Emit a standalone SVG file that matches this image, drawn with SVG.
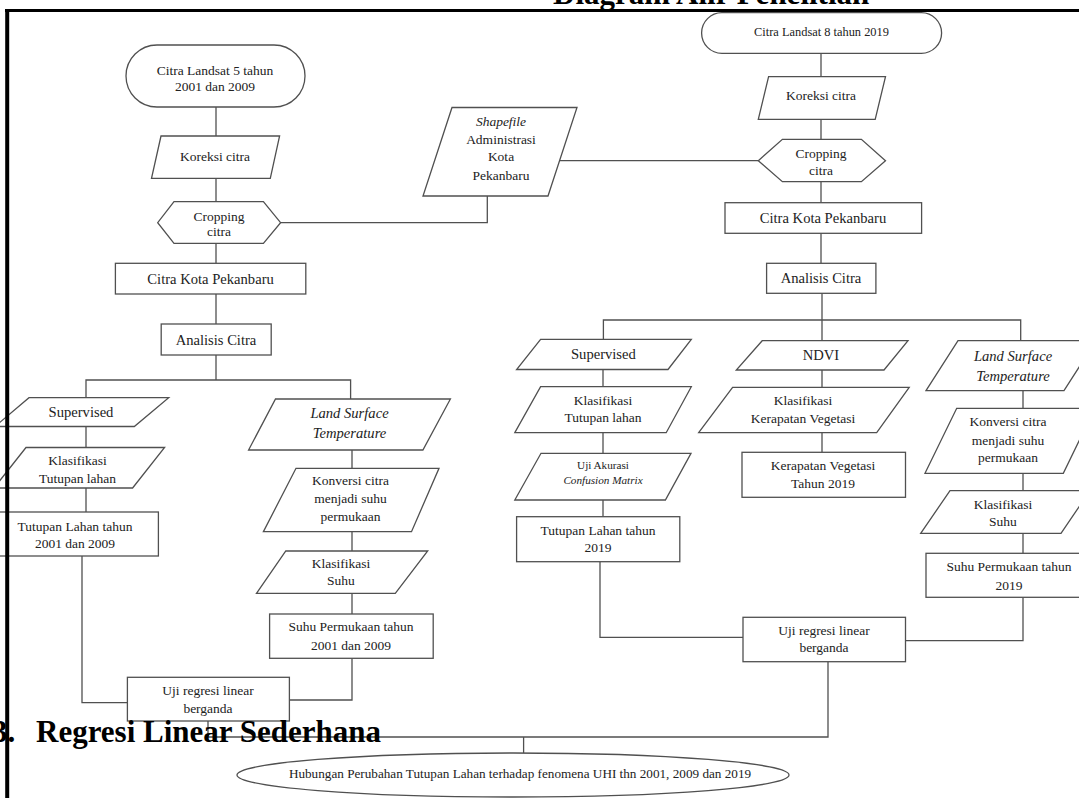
<svg xmlns="http://www.w3.org/2000/svg" width="1079" height="798" viewBox="0 0 1079 798">
<style>
.s{fill:#fff;stroke:#505050;stroke-width:1.3}
.c{fill:none;stroke:#505050;stroke-width:1.3}
text{font-family:"Liberation Serif","Times New Roman",serif;fill:#222;text-anchor:middle;font-size:13.5px}
.i{font-style:italic}
.b{font-weight:bold;fill:#000;text-anchor:start;font-size:31px}
.lg{font-size:14.6px}
.sm{font-size:11.2px}
</style>
<rect width="1079" height="798" fill="#fff"/>
<g id="connectors">
<polyline class="c" points="216,107 216,136"/>
<polyline class="c" points="216,178.3 216,201.7"/>
<polyline class="c" points="280.6,222.7 487.3,222.7 487.3,196"/>
<polyline class="c" points="559.6,160.7 758.3,160.7"/>
<polyline class="c" points="216,243.3 216,263.3"/>
<polyline class="c" points="216,294 216,324"/>
<polyline class="c" points="216,355 216,380"/>
<polyline class="c" points="86,397.7 86,380 350.6,380 350.6,399"/>
<polyline class="c" points="86,426.5 86,447.5"/>
<polyline class="c" points="86,488 86,512"/>
<polyline class="c" points="352,450 352,468.3"/>
<polyline class="c" points="352,531.7 352,551"/>
<polyline class="c" points="352,593.3 352,614"/>
<polyline class="c" points="82,556 82,702.7 127.4,702.7"/>
<polyline class="c" points="289.3,700 352,700 352,658.3"/>
<polyline class="c" points="208,721 208,737 828,737 828,661.7"/>
<polyline class="c" points="523.6,737 523.6,753"/>
<polyline class="c" points="821,53.3 821,76.7"/>
<polyline class="c" points="821,119.3 821,139.3"/>
<polyline class="c" points="821,181.7 821,202.7"/>
<polyline class="c" points="821,233.3 821,263.3"/>
<polyline class="c" points="822,293.3 822,340.7"/>
<polyline class="c" points="603.4,339.3 603.4,320 1020.7,320 1020.7,340.7"/>
<polyline class="c" points="603,369.5 603,386.7"/>
<polyline class="c" points="603,432.7 603,453.3"/>
<polyline class="c" points="603,500 603,516.7"/>
<polyline class="c" points="822,370 822,387.3"/>
<polyline class="c" points="822,432.7 822,452.3"/>
<polyline class="c" points="1023,390.7 1023,408.3"/>
<polyline class="c" points="1023,473.3 1023,490.7"/>
<polyline class="c" points="1023,533.3 1023,553.3"/>
<polyline class="c" points="600,561.7 600,637.3 743,637.3"/>
<polyline class="c" points="1023,597.3 1023,640.7 905.5,640.7"/>
</g>
<g id="n1"><rect class="s" x="126" y="45" width="179" height="62" rx="31"/><text x="215" y="74.5">Citra Landsat 5 tahun</text><text x="215" y="91">2001 dan 2009</text></g>
<g id="n2"><polygon class="s" points="161,136 279.6,136 270.3,178.3 151.5,178.3"/><text x="215" y="160.5">Koreksi citra</text></g>
<g id="n3"><polygon class="s" points="174,201.7 263.4,201.7 280.6,222.7 263.4,243.3 174,243.3 157.7,222.7"/><text x="219" y="220.5">Cropping</text><text x="219" y="236">citra</text></g>
<g id="n4"><polygon class="s" points="452,107.5 577,107.5 548,196 423,196"/><text class="i" x="501" y="126">Shapefile</text><text x="501" y="144">Administrasi</text><text x="501" y="161">Kota</text><text x="501" y="179.5">Pekanbaru</text></g>
<g id="n5"><rect class="s" x="115.4" y="263.3" width="190.4" height="30.7"/><text class="lg" x="210.6" y="283.5">Citra Kota Pekanbaru</text></g>
<g id="n6"><rect class="s" x="161.2" y="324" width="110" height="31"/><text class="lg" x="216" y="344.5">Analisis Citra</text></g>
<g id="n7"><polygon class="s" points="29,397.7 168.7,397.7 134.3,426.5 -5,426.5"/><text class="lg" x="81" y="417">Supervised</text></g>
<g id="n8"><polygon class="s" points="26,447.5 164.6,447.5 132.6,488 -6,488"/><text x="77.5" y="465">Klasifikasi</text><text x="77.5" y="483">Tutupan lahan</text></g>
<g id="n9"><rect class="s" x="-8" y="512" width="166.4" height="44"/><text x="75" y="530.5">Tutupan Lahan tahun</text><text x="75" y="548">2001 dan 2009</text></g>
<g id="n10"><polygon class="s" points="275.5,399 450.4,399 422.9,450 248.6,450"/><text class="i lg" x="349.5" y="418">Land Surface</text><text class="i lg" x="349.5" y="438">Temperature</text></g>
<g id="n11"><polygon class="s" points="296,468.3 439,468.3 411.5,531.7 263.4,531.7"/><text x="350.5" y="484.5">Konversi citra</text><text x="350.5" y="503">menjadi suhu</text><text x="350.5" y="521">permukaan</text></g>
<g id="n12"><polygon class="s" points="285.8,551 427.7,551 395.3,593.3 256.5,593.3"/><text x="341" y="568">Klasifikasi</text><text x="341" y="585">Suhu</text></g>
<g id="n13"><rect class="s" x="269.6" y="614" width="163.6" height="44.3"/><text x="351" y="631">Suhu Permukaan tahun</text><text x="351" y="649.5">2001 dan 2009</text></g>
<g id="n14"><rect class="s" x="127.4" y="677.3" width="162" height="43.7"/><text x="208" y="694.5">Uji regresi linear</text><text x="208" y="713">berganda</text></g>
<g id="r1"><rect class="s" x="701.6" y="12.7" width="240" height="40.6" rx="20.3"/><text x="821.5" y="36" style="font-size:12.4px">Citra Landsat 8 tahun 2019</text></g>
<g id="r2"><polygon class="s" points="768.6,76.7 885.5,76.7 875.2,119.3 758.3,119.3"/><text x="821" y="99.5">Koreksi citra</text></g>
<g id="r3"><polygon class="s" points="782.4,139.3 861.4,139.3 885.5,160.7 861.4,181.7 782.4,181.7 758.3,160.7"/><text x="821" y="157.8">Cropping</text><text x="821" y="175">citra</text></g>
<g id="r4"><rect class="s" x="725" y="202.7" width="196.6" height="30.6"/><text class="lg" x="823" y="222.5">Citra Kota Pekanbaru</text></g>
<g id="r5"><rect class="s" x="766.6" y="263.3" width="109.3" height="30"/><text class="lg" x="821" y="283.3">Analisis Citra</text></g>
<g id="r6"><polygon class="s" points="540.6,339.3 691.3,339.3 668,369.5 516.6,369.5"/><text class="lg" x="603.4" y="359">Supervised</text></g>
<g id="r7"><polygon class="s" points="540.6,386.7 691.3,386.7 666.2,432.7 514.8,432.7"/><text x="603" y="405">Klasifikasi</text><text x="603" y="422">Tutupan lahan</text></g>
<g id="r8"><polygon class="s" points="541,453.3 691,453.3 665.4,500 514.8,500"/><text class="sm" x="603" y="469">Uji Akurasi</text><text class="sm i" x="603" y="483.5">Confusion Matrix</text></g>
<g id="r9"><rect class="s" x="516.6" y="516.7" width="163.2" height="45"/><text x="598" y="534.5">Tutupan Lahan tahun</text><text x="598" y="552">2019</text></g>
<g id="r10"><polygon class="s" points="762.2,340.7 908,340.7 884,370 736.3,370"/><text class="lg" x="821" y="360">NDVI</text></g>
<g id="r11"><polygon class="s" points="732.6,387.3 909.2,387.3 876.7,432.7 698.7,432.7"/><text x="803" y="405">Klasifikasi</text><text x="803" y="422.5">Kerapatan Vegetasi</text></g>
<g id="r12"><rect class="s" x="742" y="452.3" width="163.5" height="45"/><text x="823" y="470">Kerapatan Vegetasi</text><text x="823" y="487.5">Tahun 2019</text></g>
<g id="r13"><polygon class="s" points="958,340.7 1096,340.7 1064,390.7 926,390.7"/><text class="i lg" x="1013" y="361">Land Surface</text><text class="i lg" x="1013" y="380.5">Temperature</text></g>
<g id="r14"><polygon class="s" points="956.7,408.3 1095,408.3 1063.3,473.3 925,473.3"/><text x="1008" y="426">Konversi citra</text><text x="1008" y="444.5">menjadi suhu</text><text x="1008" y="462">permukaan</text></g>
<g id="r15"><polygon class="s" points="950,490.7 1090,490.7 1061,533.3 920.7,533.3"/><text x="1003" y="508.5">Klasifikasi</text><text x="1003" y="526">Suhu</text></g>
<g id="r16"><rect class="s" x="926" y="553.3" width="166" height="44"/><text x="1009" y="571">Suhu Permukaan tahun</text><text x="1009" y="589.5">2019</text></g>
<g id="r17"><rect class="s" x="743" y="617.3" width="162.5" height="44.4"/><text x="824" y="634.5">Uji regresi linear</text><text x="824" y="652">berganda</text></g>
<g id="end"><ellipse class="s" cx="513" cy="775" rx="276" ry="22"/><text x="520" y="777.5" style="font-size:13.2px">Hubungan Perubahan Tutupan Lahan terhadap fenomena UHI thn 2001, 2009 dan 2019</text></g>
<g id="headings">
<text class="b" x="553" y="4">Diagram Alir Penelitian</text>
<text class="b" x="-8" y="742">3.</text>
<text class="b" x="36" y="742">Regresi Linear Sederhana</text>
</g>
<g id="border">
<line x1="5" y1="10.5" x2="1079" y2="10.5" stroke="#000" stroke-width="3.2"/>
<line x1="7.2" y1="9" x2="7.2" y2="798" stroke="#000" stroke-width="4"/>
</g>
</svg>
